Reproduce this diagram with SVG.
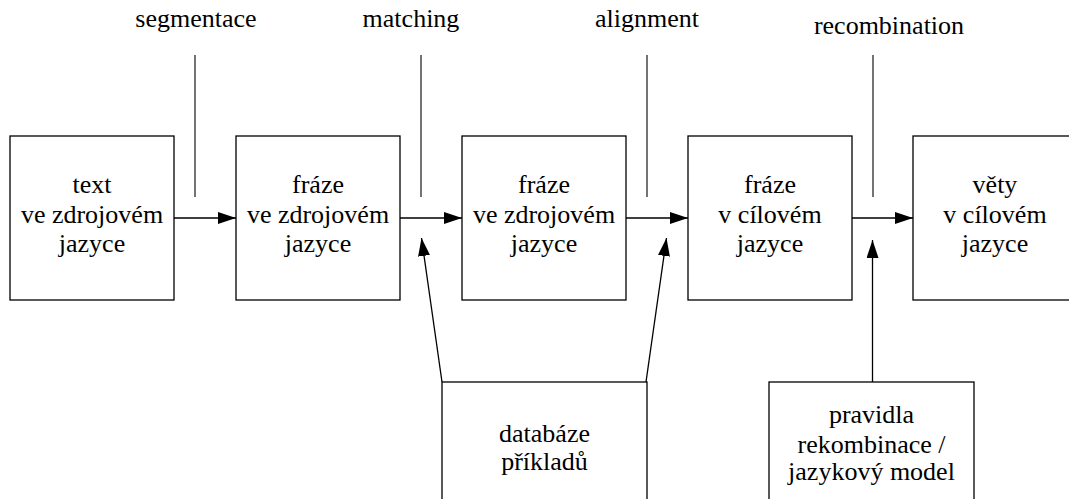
<svg xmlns="http://www.w3.org/2000/svg" width="1069" height="499" viewBox="0 0 1069 499">
  <style>
    .box { fill: #ffffff; stroke: #000000; stroke-width: 1.3; }
    .edge { fill: none; stroke: #000000; stroke-width: 1.3; }
    .tick { fill: none; stroke: #000000; stroke-width: 1.1; }
  </style>
  <defs>
    <marker id="head" markerUnits="userSpaceOnUse" markerWidth="18" markerHeight="12" refX="18" refY="6" orient="auto">
      <path d="M0,0 L18,6 L0,12 Z" fill="#000000"/>
    </marker>
  </defs>

  <rect width="1069" height="499" fill="#ffffff"/>

  <g font-family="Liberation Serif, DejaVu Serif, serif" font-size="26" text-anchor="middle" fill="#000000">
    <!-- pipeline stages -->
    <g id="src-text">
      <rect class="box" x="10" y="136" width="164" height="164"/>
      <text x="92" y="193">text</text>
      <text x="92" y="223">ve zdrojovém</text>
      <text x="92" y="252">jazyce</text>
    </g>
    <g id="src-phrases">
      <rect class="box" x="236" y="136" width="164" height="164"/>
      <text x="318" y="193">fráze</text>
      <text x="318" y="223">ve zdrojovém</text>
      <text x="318" y="252">jazyce</text>
    </g>
    <g id="matched-phrases">
      <rect class="box" x="462" y="136" width="164" height="164"/>
      <text x="544" y="193">fráze</text>
      <text x="544" y="223">ve zdrojovém</text>
      <text x="544" y="252">jazyce</text>
    </g>
    <g id="tgt-phrases">
      <rect class="box" x="688" y="136" width="164" height="164"/>
      <text x="770" y="193">fráze</text>
      <text x="770" y="223">v cílovém</text>
      <text x="770" y="252">jazyce</text>
    </g>
    <g id="tgt-sentences">
      <rect class="box" x="913" y="136" width="164" height="164"/>
      <text x="995" y="193">věty</text>
      <text x="995" y="223">v cílovém</text>
      <text x="995" y="252">jazyce</text>
    </g>

    <!-- resources -->
    <g id="examples-db">
      <rect class="box" x="442" y="382" width="205" height="140"/>
      <text x="544.5" y="442">databáze</text>
      <text x="544.5" y="470">příkladů</text>
    </g>
    <g id="recomb-rules">
      <rect class="box" x="769" y="382" width="205" height="140"/>
      <text x="871.5" y="423">pravidla</text>
      <text x="871.5" y="453">rekombinace /</text>
      <text x="871.5" y="480">jazykový model</text>
    </g>

    <!-- step labels -->
    <g id="step-labels">
      <text x="196" y="27">segmentace</text>
      <text x="411" y="27">matching</text>
      <text x="647" y="27">alignment</text>
      <text x="889" y="34">recombination</text>
    </g>
  </g>

  <g id="connectors">
    <line class="edge" x1="174" y1="218" x2="236" y2="218" marker-end="url(#head)"/>
    <line class="edge" x1="400" y1="218" x2="462" y2="218" marker-end="url(#head)"/>
    <line class="edge" x1="626" y1="218" x2="688" y2="218" marker-end="url(#head)"/>
    <line class="edge" x1="852" y1="218" x2="913" y2="218" marker-end="url(#head)"/>

    <line class="tick" x1="195" y1="55" x2="195" y2="197"/>
    <line class="tick" x1="421" y1="55" x2="421" y2="197"/>
    <line class="tick" x1="647" y1="55" x2="647" y2="197"/>
    <line class="tick" x1="873" y1="55" x2="873" y2="197"/>

    <line class="edge" x1="442" y1="382" x2="421.5" y2="238" marker-end="url(#head)"/>
    <line class="edge" x1="646" y1="382" x2="666.5" y2="238" marker-end="url(#head)"/>
    <line class="edge" x1="872.5" y1="382" x2="872.5" y2="240" marker-end="url(#head)"/>
  </g>
</svg>
